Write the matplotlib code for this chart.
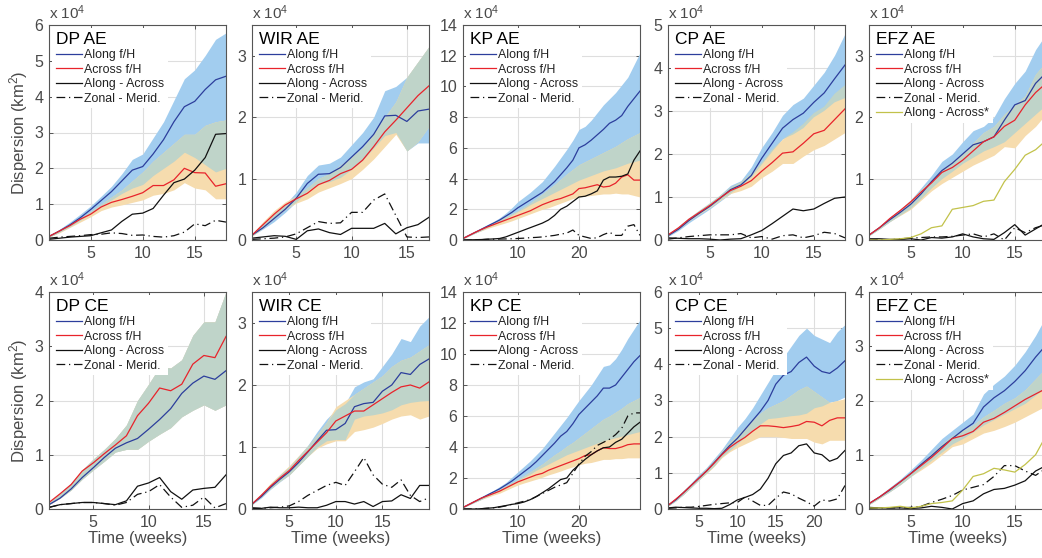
import numpy as np
import matplotlib
matplotlib.use("Agg")
import matplotlib.pyplot as plt

plt.rcParams['font.family'] = ['Liberation Sans', 'DejaVu Sans']
plt.rcParams['mathtext.fontset'] = 'custom'
plt.rcParams['mathtext.rm'] = 'Liberation Sans'
plt.rcParams['mathtext.it'] = 'Liberation Sans:italic'

# ---------------- data (units of 10^4 km^2) ----------------
# DP AE
dp_ae_along = [0.1,0.25,0.42,0.62,0.85,1.1,1.35,1.65,1.95,2.05,2.4,2.8,3.3,3.72,3.87,4.2,4.47,4.57]
dp_ae_along_hi = [0.12,0.3,0.5,0.72,0.95,1.22,1.5,1.85,2.25,2.4,2.85,3.3,3.9,4.5,4.75,5.15,5.6,5.78]
dp_ae_along_lo = [0.08,0.22,0.37,0.55,0.75,0.95,1.12,1.3,1.45,1.55,1.8,2.0,2.2,2.45,2.3,2.1,1.9,2.0]
dp_ae_across = [0.1,0.25,0.4,0.58,0.72,0.92,1.05,1.13,1.22,1.32,1.52,1.52,1.68,2.0,1.88,1.87,1.5,1.57]
dp_ae_across_hi = [0.1,0.25,0.42,0.6,0.8,1.0,1.2,1.4,1.65,1.9,2.2,2.45,2.7,2.95,2.95,3.2,3.3,3.35]
dp_ae_across_lo = [0.08,0.2,0.35,0.5,0.65,0.82,0.92,0.98,1.05,1.12,1.25,1.3,1.4,1.6,1.45,1.4,1.15,1.15]
dp_ae_diff = [0.02,0.05,0.08,0.1,0.12,0.2,0.28,0.52,0.72,0.75,0.88,1.25,1.6,1.7,1.95,2.3,2.95,2.97]
dp_ae_zm = [0.05,0.08,0.1,0.12,0.15,0.16,0.2,0.18,0.13,0.14,0.1,0.08,0.12,0.22,0.45,0.4,0.55,0.5]

# WIR AE
wir_ae_along = [0.08,0.2,0.35,0.5,0.68,0.92,1.07,1.08,1.18,1.35,1.52,1.72,2.02,2.03,1.93,2.1,2.13]
wir_ae_along_hi = [0.1,0.25,0.42,0.58,0.78,1.05,1.22,1.25,1.35,1.55,1.75,2.0,2.43,2.5,2.65,2.9,3.15]
wir_ae_along_lo = [0.07,0.18,0.3,0.45,0.62,0.8,0.92,0.95,1.02,1.15,1.3,1.5,1.7,1.75,1.45,1.58,1.58]
wir_ae_across = [0.08,0.25,0.42,0.57,0.67,0.76,0.9,0.97,1.08,1.15,1.3,1.52,1.76,1.95,2.15,2.35,2.51]
wir_ae_across_hi = [0.1,0.3,0.48,0.62,0.72,0.85,1.0,1.08,1.22,1.35,1.5,1.72,2.0,2.25,2.65,2.9,3.15]
wir_ae_across_lo = [0.06,0.2,0.35,0.5,0.6,0.67,0.78,0.85,0.92,1.0,1.15,1.32,1.52,1.72,1.45,1.6,1.85]
wir_ae_diff = [0.03,0.05,0.07,0.06,0.01,0.15,0.18,0.12,0.09,0.19,0.19,0.19,0.27,0.1,0.2,0.25,0.37]
wir_ae_zm = [0.01,0.02,0.03,0.05,0.1,0.2,0.3,0.27,0.28,0.45,0.45,0.65,0.75,0.4,0.05,0.04,0.05]

# KP AE
kp_ae_along = [0.1,0.3,0.5,0.7,0.9,1.1,1.3,1.55,1.8,2.1,2.35,2.6,2.85,3.1,3.45,3.8,4.25,4.7,5.2,6.0,6.2,6.5,6.85,7.2,7.6,7.8,8.1,8.7,9.2,9.7]
kp_ae_along_hi = [0.12,0.33,0.55,0.78,1.0,1.2,1.45,1.75,2.1,2.5,2.8,3.1,3.45,3.8,4.3,4.8,5.35,5.9,6.5,7.2,7.4,7.8,8.3,8.8,9.2,9.6,10.1,10.6,11.4,12.2]
kp_ae_along_lo = [0.08,0.27,0.45,0.62,0.82,1.0,1.18,1.4,1.62,1.85,2.05,2.3,2.5,2.7,2.9,3.1,3.3,3.5,3.7,3.9,4.05,4.2,4.35,4.5,4.6,4.7,4.85,5.0,5.1,5.2]
kp_ae_across = [0.1,0.3,0.5,0.68,0.85,1.0,1.15,1.3,1.45,1.6,1.75,1.9,2.1,2.3,2.45,2.6,2.7,2.85,3.0,3.35,3.4,3.5,3.6,3.45,3.5,3.7,4.1,4.25,3.9,3.9]
kp_ae_across_hi = [0.12,0.33,0.55,0.75,0.92,1.1,1.3,1.5,1.7,1.9,2.15,2.4,2.7,3.0,3.3,3.6,3.95,4.3,4.6,4.9,5.1,5.3,5.5,5.7,5.9,6.1,6.35,6.6,6.8,7.0]
kp_ae_across_lo = [0.08,0.27,0.45,0.6,0.75,0.88,1.0,1.12,1.25,1.4,1.55,1.7,1.85,2.0,2.1,2.25,2.4,2.55,2.7,2.8,2.85,2.9,2.95,3.0,3.0,3.05,3.0,3.0,2.9,2.8]
kp_ae_diff = [0.0,0.01,0.02,0.03,0.05,0.07,0.1,0.2,0.35,0.5,0.65,0.8,0.95,1.1,1.3,1.6,2.0,2.2,2.5,2.8,2.85,3.0,3.2,3.9,4.1,4.1,4.15,4.3,5.2,5.8]
kp_ae_zm = [0.0,0.0,0.01,0.02,0.05,0.05,0.06,0.07,0.08,0.1,0.12,0.15,0.17,0.2,0.25,0.3,0.38,0.45,0.65,0.3,0.2,0.1,0.15,0.35,0.5,0.3,0.3,0.9,1.0,0.3]

# CP AE
cp_ae_along = [0.1,0.25,0.45,0.62,0.78,0.97,1.17,1.28,1.5,1.9,2.25,2.6,2.8,2.95,3.2,3.42,3.75,4.07]
cp_ae_along_hi = [0.12,0.3,0.5,0.68,0.85,1.05,1.27,1.38,1.7,2.15,2.5,2.9,3.15,3.3,3.6,3.9,4.3,4.8]
cp_ae_along_lo = [0.08,0.22,0.4,0.56,0.72,0.9,1.08,1.25,1.45,1.75,2.05,2.35,2.45,2.6,2.85,3.0,3.2,3.3]
cp_ae_across = [0.12,0.28,0.48,0.64,0.8,0.98,1.15,1.25,1.38,1.6,1.8,2.02,2.05,2.25,2.47,2.55,2.8,3.05]
cp_ae_across_hi = [0.13,0.3,0.5,0.68,0.85,1.03,1.22,1.35,1.55,1.8,2.1,2.35,2.5,2.7,2.95,3.1,3.4,3.6]
cp_ae_across_lo = [0.1,0.25,0.44,0.6,0.75,0.92,1.08,1.15,1.25,1.45,1.6,1.78,1.78,1.95,2.1,2.2,2.35,2.5]
cp_ae_diff = [0.05,0.04,0.03,0.03,0.02,0.0,0.02,0.03,0.12,0.22,0.38,0.55,0.72,0.68,0.72,0.85,0.97,1.0]
cp_ae_zm = [0.02,0.05,0.08,0.1,0.12,0.12,0.12,0.15,0.05,0.08,0.02,0.1,0.12,0.05,0.1,0.18,0.15,0.05]

# EFZ AE
efz_ae_along = [0.08,0.2,0.33,0.45,0.58,0.75,0.95,1.13,1.25,1.4,1.55,1.6,1.68,1.95,2.2,2.27,2.55,2.72]
efz_ae_along_hi = [0.1,0.22,0.37,0.5,0.65,0.85,1.05,1.28,1.4,1.6,1.78,1.85,2.0,2.3,2.55,2.75,3.1,3.35]
efz_ae_along_lo = [0.07,0.18,0.3,0.41,0.52,0.68,0.85,1.0,1.12,1.25,1.35,1.45,1.52,1.6,1.75,1.9,2.05,2.2]
efz_ae_across = [0.08,0.2,0.35,0.48,0.62,0.78,0.93,1.1,1.18,1.3,1.45,1.6,1.68,1.85,1.95,2.2,2.4,2.55]
efz_ae_across_hi = [0.1,0.22,0.37,0.5,0.65,0.82,0.98,1.15,1.28,1.4,1.58,1.75,1.85,2.05,2.2,2.35,2.7,2.9]
efz_ae_across_lo = [0.07,0.18,0.3,0.4,0.5,0.65,0.8,0.92,1.02,1.12,1.22,1.3,1.38,1.52,1.5,1.7,1.85,2.05]
efz_ae_diff = [0.02,0.02,0.01,0.01,0.02,0.0,0.04,0.03,0.05,0.1,0.05,0.02,0.01,0.12,0.25,0.08,0.18,0.28]
efz_ae_zm = [0.0,0.01,0.0,0.02,0.03,0.04,0.05,0.05,0.06,0.08,0.1,0.05,0.1,0.0,0.2,0.12,0.2,0.25]
efz_ae_star = [0.0,0.0,0.01,0.02,0.04,0.1,0.2,0.23,0.5,0.53,0.56,0.63,0.65,0.95,1.15,1.38,1.47,1.62]

# DP CE
dp_ce_along = [0.08,0.2,0.37,0.58,0.76,0.95,1.12,1.22,1.3,1.47,1.65,1.85,2.13,2.32,2.45,2.39,2.55]
dp_ce_along_hi = [0.12,0.3,0.48,0.72,0.92,1.1,1.3,1.55,2.0,2.3,2.62,2.6,2.75,3.2,3.45,3.45,4.0]
dp_ce_along_lo = [0.08,0.2,0.35,0.55,0.72,0.88,1.05,1.1,1.1,1.25,1.38,1.5,1.7,1.82,1.92,1.82,1.92]
dp_ce_across = [0.12,0.28,0.45,0.7,0.85,1.02,1.18,1.35,1.72,1.95,2.23,2.18,2.3,2.67,2.83,2.79,3.18]
dp_ce_across_hi = [0.12,0.3,0.48,0.72,0.92,1.1,1.3,1.55,2.0,2.3,2.62,2.6,2.75,3.2,3.45,3.45,4.0]
dp_ce_across_lo = [0.08,0.2,0.35,0.55,0.72,0.88,1.05,1.1,1.1,1.25,1.38,1.5,1.7,1.82,1.92,1.82,1.92]
dp_ce_diff = [0.03,0.08,0.1,0.12,0.12,0.1,0.08,0.15,0.42,0.48,0.58,0.32,0.18,0.35,0.38,0.4,0.63]
dp_ce_zm = [0.03,0.08,0.1,0.12,0.12,0.1,0.07,0.12,0.27,0.32,0.45,0.22,0.03,0.07,0.22,0.02,0.1]

# WIR CE
wir_ce_along = [0.08,0.2,0.35,0.48,0.6,0.75,0.92,1.1,1.27,1.28,1.38,1.65,1.7,1.72,1.9,2.0,2.2,2.17,2.33,2.42]
wir_ce_along_hi = [0.1,0.25,0.4,0.55,0.68,0.85,1.03,1.25,1.45,1.6,1.7,1.97,2.05,2.1,2.3,2.5,2.75,2.7,2.95,3.1]
wir_ce_along_lo = [0.07,0.18,0.32,0.44,0.55,0.7,0.85,1.0,1.1,1.12,1.12,1.45,1.5,1.52,1.55,1.6,1.68,1.72,1.74,1.75]
wir_ce_across = [0.08,0.22,0.37,0.5,0.62,0.78,0.93,1.08,1.23,1.42,1.5,1.58,1.58,1.68,1.78,1.88,1.97,2.0,1.95,2.05]
wir_ce_across_hi = [0.1,0.25,0.42,0.56,0.7,0.86,1.02,1.2,1.4,1.65,1.75,1.85,1.95,2.05,2.15,2.3,2.4,2.45,2.55,2.65]
wir_ce_across_lo = [0.07,0.2,0.33,0.45,0.55,0.7,0.85,0.98,1.05,1.1,1.1,1.25,1.28,1.32,1.38,1.45,1.5,1.52,1.45,1.5]
wir_ce_diff = [0.02,0.01,0.03,0.02,0.02,0.03,0.02,0.02,0.06,0.12,0.12,0.08,0.12,0.04,0.12,0.13,0.23,0.17,0.38,0.38]
wir_ce_zm = [0.01,0.01,0.02,0.03,0.05,0.12,0.22,0.3,0.38,0.43,0.38,0.6,0.83,0.55,0.4,0.35,0.47,0.22,0.12,0.18]

# KP CE
kp_ce_along = [0.1,0.3,0.5,0.7,0.9,1.1,1.3,1.55,1.8,2.1,2.4,2.7,3.05,3.45,3.85,4.25,4.7,5.0,5.5,6.1,6.5,6.9,7.3,7.8,7.8,8.0,8.5,9.0,9.5,9.9]
kp_ce_along_hi = [0.12,0.33,0.55,0.78,1.0,1.2,1.45,1.7,2.05,2.4,2.75,3.1,3.5,3.9,4.4,4.9,5.4,5.9,6.45,7.0,7.5,8.0,8.6,9.2,9.3,9.7,10.3,11.0,11.6,12.2]
kp_ce_along_lo = [0.08,0.27,0.45,0.62,0.82,1.0,1.18,1.4,1.62,1.85,2.05,2.25,2.5,2.7,2.9,3.1,3.3,3.5,3.65,3.8,3.95,4.1,4.25,4.4,4.5,4.6,4.7,4.8,4.9,5.0]
kp_ce_across = [0.1,0.3,0.5,0.7,0.85,1.0,1.15,1.35,1.55,1.75,1.9,2.05,2.2,2.3,2.5,2.65,2.8,2.95,3.1,3.25,3.45,3.5,3.75,3.95,3.9,3.9,4.0,4.15,4.2,4.2]
kp_ce_across_hi = [0.12,0.33,0.55,0.75,0.92,1.1,1.28,1.48,1.7,1.9,2.15,2.4,2.65,2.9,3.2,3.5,3.75,4.05,4.3,4.6,4.9,5.2,5.5,5.8,6.0,6.25,6.5,6.8,7.0,7.2]
kp_ce_across_lo = [0.08,0.27,0.45,0.62,0.75,0.9,1.02,1.2,1.38,1.55,1.68,1.8,1.92,2.05,2.2,2.32,2.45,2.6,2.72,2.85,2.95,3.0,3.1,3.2,3.2,3.25,3.25,3.3,3.3,3.3]
kp_ce_diff = [0.0,0.0,0.0,0.02,0.05,0.08,0.15,0.22,0.3,0.35,0.45,0.6,0.8,1.05,1.3,1.6,1.9,2.0,2.5,2.85,3.2,3.5,3.75,3.95,4.0,4.3,4.5,4.9,5.3,5.6]
kp_ce_zm = [0.0,0.0,0.01,0.02,0.05,0.08,0.12,0.2,0.3,0.4,0.5,0.6,0.8,1.0,1.2,1.4,1.55,1.7,2.3,2.9,3.4,3.7,4.1,4.3,4.5,4.8,5.2,6.0,6.2,6.2]

# CP CE
cp_ce_along = [0.1,0.25,0.45,0.65,0.85,1.05,1.28,1.52,1.75,1.95,2.2,2.45,2.7,3.0,3.45,3.7,3.8,4.05,4.2,3.95,3.8,3.75,3.9,4.1]
cp_ce_along_hi = [0.12,0.3,0.5,0.72,0.95,1.15,1.4,1.65,1.95,2.25,2.5,2.8,3.15,3.5,3.85,4.2,4.5,4.8,5.0,4.8,4.7,4.6,4.9,5.1]
cp_ce_along_lo = [0.08,0.22,0.4,0.6,0.8,1.0,1.2,1.45,1.62,1.8,2.0,2.2,2.35,2.5,2.52,2.55,2.58,2.6,2.65,2.8,2.85,2.95,3.0,3.1]
cp_ce_across = [0.1,0.27,0.45,0.65,0.85,1.05,1.27,1.5,1.7,1.85,1.98,2.15,2.3,2.3,2.28,2.25,2.28,2.32,2.42,2.4,2.3,2.45,2.52,2.52]
cp_ce_across_hi = [0.12,0.3,0.5,0.7,0.9,1.12,1.35,1.6,1.85,2.05,2.25,2.45,2.65,2.8,2.9,3.0,3.15,3.3,3.4,3.25,3.1,2.95,3.0,3.05]
cp_ce_across_lo = [0.08,0.23,0.4,0.6,0.8,0.98,1.18,1.42,1.58,1.7,1.8,1.9,2.0,2.0,2.0,1.98,1.95,1.95,1.95,1.85,1.8,1.9,1.9,1.9]
cp_ce_diff = [0.03,0.05,0.04,0.03,0.02,0.02,0.01,0.02,0.12,0.25,0.32,0.4,0.55,0.85,1.25,1.48,1.55,1.75,1.8,1.55,1.5,1.32,1.4,1.62]
cp_ce_zm = [0.02,0.03,0.05,0.05,0.07,0.1,0.13,0.15,0.17,0.18,0.33,0.22,0.1,0.1,0.3,0.47,0.42,0.3,0.2,0.08,0.25,0.22,0.28,0.65]

# EFZ CE
efz_ce_along = [0.1,0.22,0.35,0.5,0.65,0.82,0.98,1.15,1.3,1.45,1.58,1.88,2.05,2.18,2.35,2.55,2.8,3.02]
efz_ce_along_hi = [0.12,0.25,0.4,0.55,0.72,0.9,1.1,1.3,1.45,1.6,1.75,2.12,2.3,2.45,2.65,2.9,3.2,3.55]
efz_ce_along_lo = [0.08,0.2,0.32,0.45,0.6,0.75,0.9,1.05,1.2,1.3,1.42,1.55,1.65,1.75,1.85,1.95,2.1,2.25]
efz_ce_across = [0.1,0.22,0.36,0.5,0.65,0.8,0.95,1.12,1.3,1.35,1.43,1.6,1.67,1.78,1.9,2.02,2.12,2.22]
efz_ce_across_hi = [0.1,0.23,0.37,0.52,0.68,0.85,1.02,1.2,1.35,1.45,1.55,1.7,1.82,1.95,2.05,2.2,2.4,2.6]
efz_ce_across_lo = [0.08,0.2,0.32,0.45,0.6,0.72,0.85,1.0,1.15,1.2,1.3,1.4,1.45,1.52,1.6,1.7,1.8,1.9]
efz_ce_diff = [0.03,0.02,0.02,0.02,0.01,0.02,0.05,0.03,0.0,0.1,0.15,0.28,0.36,0.38,0.44,0.52,0.7,0.8]
efz_ce_zm = [0.01,0.02,0.02,0.02,0.03,0.05,0.12,0.18,0.25,0.35,0.4,0.45,0.6,0.8,0.8,0.7,0.62,0.75]
efz_ce_star = [0.02,0.02,0.03,0.05,0.02,0.05,0.1,0.12,0.15,0.35,0.6,0.65,0.75,0.72,0.68,0.82,1.0,1.35]

legend_labels = ["Along f/H", "Across f/H", "Along - Across", "Zonal - Merid.", "Along - Across*"]

panels = [
    # title, row, col, xmax, ymax, yticks, xticks, series...
    ("DP AE", 0, 0, 18, 6, range(0, 7), [5, 10, 15],
     dp_ae_along, dp_ae_along_lo, dp_ae_along_hi, dp_ae_across, dp_ae_across_lo, dp_ae_across_hi, dp_ae_diff, dp_ae_zm, None),
    ("WIR AE", 0, 1, 17, 3.5, range(0, 4), [5, 10, 15],
     wir_ae_along, wir_ae_along_lo, wir_ae_along_hi, wir_ae_across, wir_ae_across_lo, wir_ae_across_hi, wir_ae_diff, wir_ae_zm, None),
    ("KP AE", 0, 2, 30, 14, range(0, 15, 2), [10, 20],
     kp_ae_along, kp_ae_along_lo, kp_ae_along_hi, kp_ae_across, kp_ae_across_lo, kp_ae_across_hi, kp_ae_diff, kp_ae_zm, None),
    ("CP AE", 0, 3, 18, 5, range(0, 6), [5, 10, 15],
     cp_ae_along, cp_ae_along_lo, cp_ae_along_hi, cp_ae_across, cp_ae_across_lo, cp_ae_across_hi, cp_ae_diff, cp_ae_zm, None),
    ("EFZ AE", 0, 4, 18, 3.5, range(0, 4), [5, 10, 15],
     efz_ae_along, efz_ae_along_lo, efz_ae_along_hi, efz_ae_across, efz_ae_across_lo, efz_ae_across_hi, efz_ae_diff, efz_ae_zm, efz_ae_star),
    ("DP CE", 1, 0, 17, 4, range(0, 5), [5, 10, 15],
     dp_ce_along, dp_ce_along_lo, dp_ce_along_hi, dp_ce_across, dp_ce_across_lo, dp_ce_across_hi, dp_ce_diff, dp_ce_zm, None),
    ("WIR CE", 1, 1, 20, 3.5, range(0, 4), [5, 10, 15],
     wir_ce_along, wir_ce_along_lo, wir_ce_along_hi, wir_ce_across, wir_ce_across_lo, wir_ce_across_hi, wir_ce_diff, wir_ce_zm, None),
    ("KP CE", 1, 2, 30, 14, range(0, 15, 2), [10, 20],
     kp_ce_along, kp_ce_along_lo, kp_ce_along_hi, kp_ce_across, kp_ce_across_lo, kp_ce_across_hi, kp_ce_diff, kp_ce_zm, None),
    ("CP CE", 1, 3, 24, 6, range(0, 7), [5, 10, 15, 20],
     cp_ce_along, cp_ce_along_lo, cp_ce_along_hi, cp_ce_across, cp_ce_across_lo, cp_ce_across_hi, cp_ce_diff, cp_ce_zm, None),
    ("EFZ CE", 1, 4, 18, 4, range(0, 5), [5, 10, 15],
     efz_ce_along, efz_ce_along_lo, efz_ce_along_hi, efz_ce_across, efz_ce_across_lo, efz_ce_across_hi, efz_ce_diff, efz_ce_zm, efz_ce_star),
]

# ---------------- style ----------------
W, H = 1042, 558
fig = plt.figure(figsize=(W / 100, H / 100), dpi=100)
lefts = [49, 252, 463, 668, 869]
tops = [25, 292]
bottoms = [240, 509]
aw = 177

C_BLUE_BAND = '#a2cdef'
C_ORANGE_BAND = '#f6dcae'
C_OVERLAP = '#bfd4c9'
C_BLUE = '#2c3e9c'
C_RED = '#e8232b'
C_BLACK = '#111111'
C_OLIVE = '#c2c24a'
C_TXT = '#4a4a4a'
C_SPINE = '#555555'
ZM_DASH = (7, 3, 1, 3)
LW = 0.9

for (title, r, c, xmax, ymax, yt, xt, al, al_lo, al_hi, ac, ac_lo, ac_hi, dif, zm, star) in panels:
    l = lefts[c]
    t = tops[r]
    b = bottoms[r]
    ax = fig.add_axes([l / W, 1 - b / H, aw / W, (b - t) / H])
    x = np.arange(1, len(al) + 1)
    al_lo_a = np.array(al_lo); al_hi_a = np.array(al_hi)
    ac_lo_a = np.array(ac_lo); ac_hi_a = np.array(ac_hi)
    ax.fill_between(x, al_lo_a, al_hi_a, color=C_BLUE_BAND, lw=0, zorder=1)
    ax.fill_between(x, ac_lo_a, ac_hi_a, color=C_ORANGE_BAND, lw=0, zorder=1.1)
    ov_lo = np.maximum(al_lo_a, ac_lo_a)
    ov_hi = np.minimum(al_hi_a, ac_hi_a)
    ax.fill_between(x, ov_lo, ov_hi, where=ov_hi > ov_lo, interpolate=True,
                    color=C_OVERLAP, lw=0, zorder=1.2)

    h1, = ax.plot(x, al, color=C_BLUE, lw=LW, zorder=3)
    h2, = ax.plot(x, ac, color=C_RED, lw=LW, zorder=3)
    h3, = ax.plot(x, dif, color=C_BLACK, lw=LW, zorder=3)
    h4, = ax.plot(x, zm, color=C_BLACK, lw=LW, dashes=ZM_DASH, zorder=3)
    handles = [h1, h2, h3, h4]
    if star is not None:
        h5, = ax.plot(x, star, color=C_OLIVE, lw=LW, zorder=3)
        handles.append(h5)

    ax.set_xlim(1, xmax)
    ax.set_ylim(0, ymax)
    ax.set_xticks(xt)
    ax.set_yticks(list(yt))
    ax.grid(True, color='#dedede', lw=0.8, zorder=0)
    ax.set_axisbelow(True)
    for s in ax.spines.values():
        s.set_color(C_SPINE)
        s.set_linewidth(0.8)
        s.set_zorder(5)
    ax.tick_params(direction='in', length=3, width=0.7, colors=C_SPINE,
                   labelcolor=C_TXT, labelsize=11.5, top=True, right=True, pad=4)
    ax.text(0.0, 1.012, r'x 10$^{4}$', transform=ax.transAxes, ha='left', va='bottom',
            fontsize=11, color=C_TXT)
    if c == 0:
        ax.set_ylabel(r'Dispersion (km$^{2}$)', fontsize=12, color=C_TXT, labelpad=3)
    if r == 1:
        ax.set_xlabel('Time (weeks)', fontsize=12, color=C_TXT, labelpad=1)

    leg = ax.legend(handles, legend_labels[:len(handles)], loc='upper left',
                    bbox_to_anchor=(0.0, 1.0), frameon=True, fontsize=8.9,
                    title=title, title_fontsize=12.5, alignment='left',
                    handlelength=2.1, handletextpad=0.2, labelspacing=0.2,
                    borderpad=0.3, borderaxespad=0.25, fancybox=False)
    leg.get_frame().set_facecolor('white')
    leg.get_frame().set_edgecolor('none')
    leg.get_frame().set_alpha(1.0)
    leg.set_zorder(6)
    for txt in leg.get_texts():
        txt.set_color('#222222')

fig.savefig('out.png', dpi=100)
